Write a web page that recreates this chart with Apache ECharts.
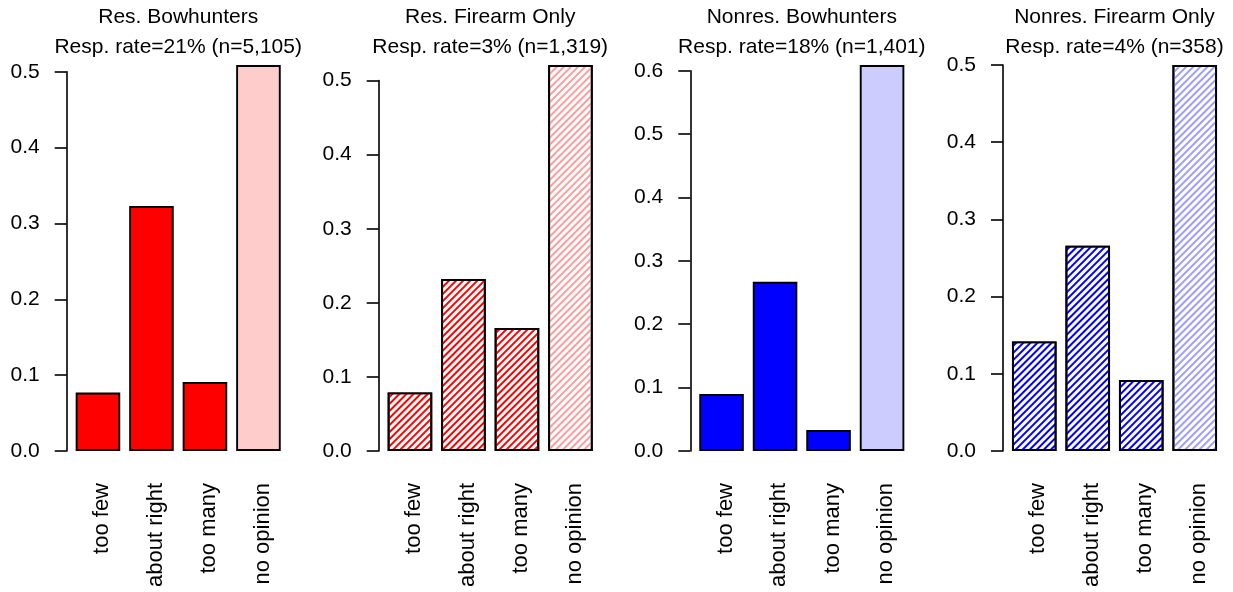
<!DOCTYPE html>
<html>
<head>
<meta charset="utf-8">
<script src="https://cdn.jsdelivr.net/npm/echarts@6/dist/echarts.min.js"></script>
<style>
html,body{margin:0;padding:0;background:#fff;}
#chart{width:1233px;height:592px;}
</style>
</head>
<body>
<div id="chart"></div>
<script>
// ---- data ----
const categories = ['too few', 'about right', 'too many', 'no opinion'];
const resBowhunters = [0.077, 0.323, 0.091, 0.509];
const resFirearmOnly = [0.079, 0.232, 0.166, 0.521];
const nonresBowhunters = [0.090, 0.267, 0.033, 0.609];
const nonresFirearmOnly = [0.142, 0.266, 0.092, 0.500];
const panelTitles = ['Res. Bowhunters', 'Res. Firearm Only', 'Nonres. Bowhunters', 'Nonres. Firearm Only'];
const panelSubtitles = ['Resp. rate=21% (n=5,105)', 'Resp. rate=3% (n=1,319)', 'Resp. rate=18% (n=1,401)', 'Resp. rate=4% (n=358)'];
const yTopTick = [0.5, 0.5, 0.6, 0.5];
const yTickStep = 0.1;

// ---- layout / style ----
const FONT = '"Liberation Sans", Arial, Helvetica, sans-serif';
const panelData = [resBowhunters, resFirearmOnly, nonresBowhunters, nonresFirearmOnly];
const gridLefts = [71.2, 383.2, 694.8, 1007.5];
const gridWidth = 214;
const zeroY = 451;        // pixel of value 0
const maxBarTopY = 65;    // pixel reached by the tallest bar in each panel

function solid(c) { return { color: c, borderColor: '#000', borderWidth: 1.9 }; }
function hatched(c) {
  return {
    color: '#fff', borderColor: '#000', borderWidth: 1.9,
    decal: { symbol: 'rect', symbolSize: 1, color: c, dashArrayX: [1, 0], dashArrayY: [1.1, 2.1], rotation: -Math.PI / 4 }
  };
}
const panelStyles = [
  [solid('#ff0000'), solid('#ff0000'), solid('#ff0000'), solid('#ffcccc')],
  [hatched('#ff0000'), hatched('#ff0000'), hatched('#ff0000'), hatched('#ff9d9d')],
  [solid('#0000ff'), solid('#0000ff'), solid('#0000ff'), solid('#ccccff')],
  [hatched('#0000ff'), hatched('#0000ff'), hatched('#0000ff'), hatched('#9d9dff')]
];

const grids = [], xAxes = [], yAxes = [], series = [], titles = [];
panelData.forEach((vals, i) => {
  const maxVal = Math.max.apply(null, vals);
  const plotH = zeroY - maxBarTopY;
  const gridH = plotH * yTopTick[i] / maxVal;
  const top = zeroY - gridH;
  grids.push({ left: gridLefts[i], width: gridWidth, top: top, height: gridH });
  xAxes.push({
    type: 'category', gridIndex: i, data: categories,
    axisLine: { show: false }, axisTick: { show: false },
    axisLabel: {
      rotate: 90, margin: 32, color: '#000', fontSize: 22, fontFamily: FONT,
      verticalAlign: 'top', lineHeight: 8
    }
  });
  yAxes.push({
    type: 'value', gridIndex: i, min: 0, max: yTopTick[i], interval: yTickStep,
    offset: 4.5,
    splitLine: { show: false },
    axisLine: { show: true, lineStyle: { color: '#000', width: 1.6 } },
    axisTick: { show: true, length: 12, lineStyle: { color: '#000', width: 1.6 } },
    axisLabel: {
      margin: 27, color: '#000', fontSize: 21, fontFamily: FONT,
      formatter: v => v.toFixed(1)
    }
  });
  series.push({
    type: 'bar', xAxisIndex: i, yAxisIndex: i, clip: false,
    barCategoryGap: '16.7%', animation: false,
    data: vals.map((v, k) => ({ value: v, itemStyle: panelStyles[i][k] }))
  });
  titles.push({
    text: panelTitles[i] + '\n' + panelSubtitles[i],
    left: gridLefts[i] + gridWidth / 2, top: 2, textAlign: 'center', padding: 0,
    textStyle: { color: '#000', fontWeight: 'normal', fontSize: 21, fontFamily: FONT, lineHeight: 30 }
  });
});

const chart = echarts.init(document.getElementById('chart'), null, { renderer: 'canvas' });
chart.setOption({
  backgroundColor: '#fff',
  animation: false,
  title: titles,
  grid: grids,
  xAxis: xAxes,
  yAxis: yAxes,
  series: series
});
</script>
</body>
</html>
